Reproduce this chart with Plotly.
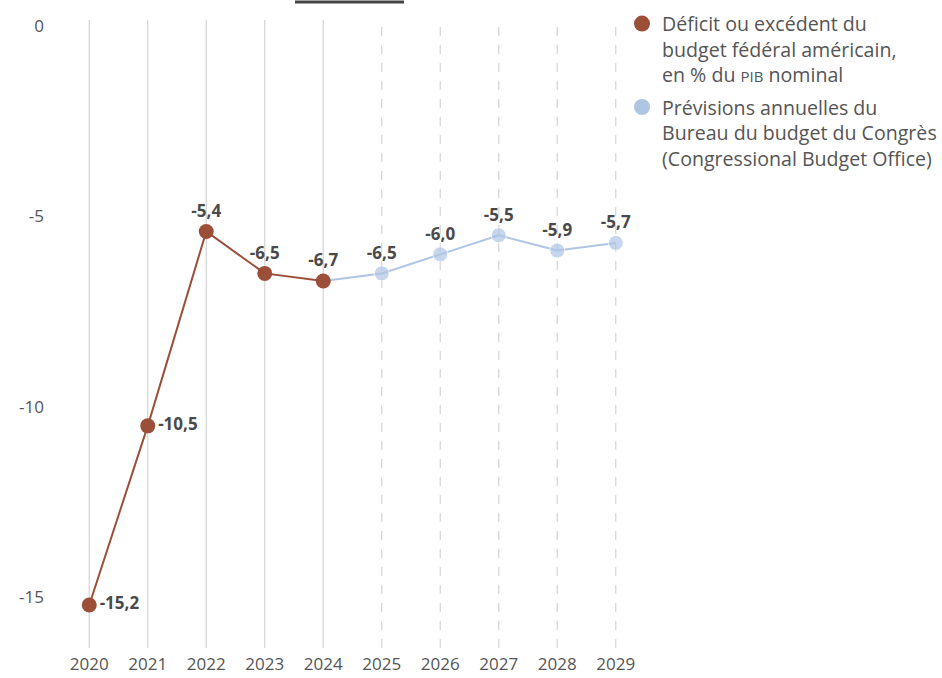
import plotly.graph_objects as go

years_actual = [2020, 2021, 2022, 2023, 2024]
values_actual = [-15.2, -10.5, -5.4, -6.5, -6.7]
years_forecast = [2024, 2025, 2026, 2027, 2028, 2029]
values_forecast = [-6.7, -6.5, -6.0, -5.5, -5.9, -5.7]
all_years = [2020, 2021, 2022, 2023, 2024, 2025, 2026, 2027, 2028, 2029]
y_ticks = [0, -5, -10, -15]
y_ticklabels = ["0", "-5", "-10", "-15"]

name_actual = "Déficit ou excédent du<br>budget fédéral américain,<br>en % du <span style=\"font-size:15px\">PIB</span> nominal"
name_forecast = "Prévisions annuelles du<br>Bureau du budget du Congrès<br>(Congressional Budget Office)"

RED = "#9C4F38"
BLUE = "#AEC5E4"
TXT = "#555555"
LBL = "#4a4a4a"
FONT = "Open Sans"

def fmt(v):
    return f"{v:.1f}".replace(".", ",")

fig = go.Figure()

fig.add_trace(go.Scatter(
    x=years_forecast, y=values_forecast, mode="lines+markers+text",
    showlegend=False,
    line=dict(color=BLUE, width=2),
    marker=dict(color=BLUE, size=[0] + [15] * (len(years_forecast) - 1)),
    text=[""] + [fmt(v) for v in values_forecast[1:]],
    textposition="top center",
    textfont=dict(family=FONT, size=17, color=LBL, weight="bold"),
    cliponaxis=False,
))

pos_actual = ["middle right", "middle right", "top center", "top center", "top center"]
fig.add_trace(go.Scatter(
    x=years_actual, y=values_actual, mode="lines+markers+text",
    showlegend=False,
    line=dict(color=RED, width=2),
    marker=dict(color=RED, size=15),
    text=[fmt(v) for v in values_actual],
    textposition=pos_actual,
    textfont=dict(family=FONT, size=17, color=LBL, weight="bold"),
    cliponaxis=False,
))

# legend entries (marker only)
fig.add_trace(go.Scatter(x=[None], y=[None], mode="markers", name=name_actual,
                         marker=dict(color=RED, size=16), legendgroup="a", legendrank=1))
fig.add_trace(go.Scatter(x=[None], y=[None], mode="markers", name=name_forecast,
                         marker=dict(color=BLUE, size=16), legendgroup="b", legendrank=2))

shapes = []
for yr in all_years:
    shapes.append(dict(
        type="line", xref="x", yref="paper", x0=yr, x1=yr, y0=0, y1=1,
        line=dict(color="#d4d4d4", width=1.2, dash="solid" if yr <= 2024 else "dash"),
        layer="below",
    ))
shapes.append(dict(
    type="line", xref="paper", yref="paper", x0=0.4017, x1=0.588, y0=1.0287, y1=1.0287,
    line=dict(color="#444444", width=3),
))

fig.update_layout(
    width=942, height=678,
    margin=dict(l=60, r=297, t=20, b=30, autoexpand=False),
    paper_bgcolor="white", plot_bgcolor="white",
    font=dict(family=FONT, size=17, color=TXT),
    shapes=shapes,
    showlegend=True,
    legend=dict(
        x=0.9607, xanchor="left", y=1.025, yanchor="top",
        traceorder="grouped", valign="top",
        font=dict(family=FONT, size=19.6, color=TXT),
        tracegroupgap=4, itemsizing="trace",
        bgcolor="rgba(0,0,0,0)",
    ),
    xaxis=dict(
        range=[2019.5, 2029.5], tickmode="array", tickvals=all_years,
        ticktext=[str(y) for y in all_years], showgrid=False, zeroline=False,
        showline=False, ticks="", tickfont=dict(size=17, color=TXT), automargin=False,
        ticklabelstandoff=4,
    ),
    yaxis=dict(
        range=[-16.33, 0.15], tickmode="array", tickvals=y_ticks, ticktext=y_ticklabels,
        showgrid=False, zeroline=False, showline=False, ticks="",
        tickfont=dict(size=17, color=TXT), ticklabelstandoff=15, automargin=False,
    ),
)

fig.write_html("out.html")
